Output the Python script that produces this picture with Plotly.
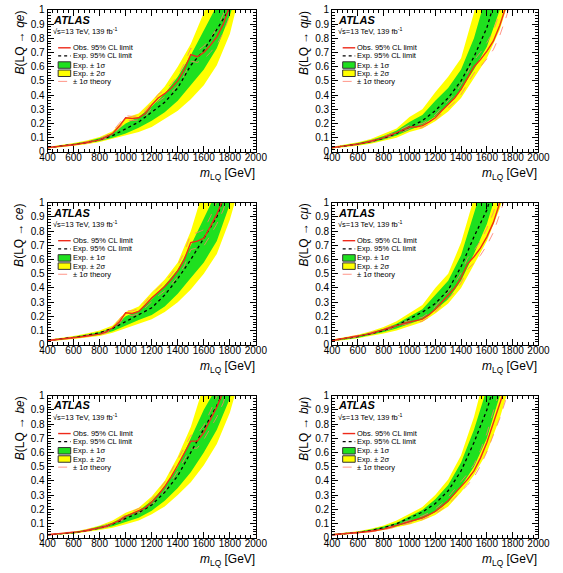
import plotly.graph_objects as go

# ---------------- data ----------------
M_GRID = list(range(400, 2001, 100))   # grid for expected limits and bands
OBS_M = list(range(400, 1801, 50))     # grid for observed limits and theory variations

# LQ -> q e
QE_EXP = [0.03, 0.04, 0.052, 0.066, 0.085, 0.115, 0.16, 0.21, 0.28, 0.35, 0.45, 0.61, 0.715, 0.86, 1.01, 1.25, 1.5]
QE_2UP = [0.035, 0.047, 0.062, 0.08, 0.105, 0.145, 0.24, 0.27, 0.36, 0.46, 0.6, 0.76, 0.98, 1.25, 1.5, 1.8, 2.1]
QE_1UP = [0.033, 0.044, 0.058, 0.074, 0.097, 0.13, 0.2, 0.245, 0.32, 0.41, 0.53, 0.68, 0.86, 1.03, 1.3, 1.6, 1.9]
QE_1DN = [0.027, 0.036, 0.047, 0.06, 0.077, 0.1, 0.13, 0.17, 0.22, 0.28, 0.36, 0.47, 0.58, 0.73, 0.96, 1.25, 1.5]
QE_2DN = [0.024, 0.032, 0.042, 0.054, 0.07, 0.09, 0.115, 0.14, 0.175, 0.23, 0.29, 0.37, 0.47, 0.61, 0.83, 1.2, 1.5]
QE_OBS = [0.03, 0.034, 0.038, 0.044, 0.05, 0.057, 0.065, 0.074, 0.085, 0.105, 0.13, 0.18, 0.24, 0.235, 0.24,
          0.27, 0.33, 0.38, 0.41, 0.45, 0.5, 0.58, 0.685, 0.67, 0.7, 0.75, 0.81, 0.9, 1.03]
QE_THUP = [0.032, 0.036, 0.041, 0.047, 0.054, 0.061, 0.07, 0.08, 0.092, 0.115, 0.145, 0.2, 0.255, 0.25, 0.255,
           0.29, 0.35, 0.405, 0.435, 0.48, 0.535, 0.62, 0.73, 0.71, 0.745, 0.8, 0.87, 0.97, 1.1]
QE_THDN = [0.028, 0.032, 0.036, 0.041, 0.046, 0.053, 0.06, 0.068, 0.078, 0.096, 0.12, 0.165, 0.225, 0.22, 0.225,
           0.25, 0.31, 0.355, 0.385, 0.42, 0.465, 0.54, 0.64, 0.63, 0.655, 0.7, 0.755, 0.84, 0.96]

# LQ -> q mu
QM_EXP = [0.03, 0.04, 0.055, 0.073, 0.097, 0.13, 0.175, 0.22, 0.29, 0.38, 0.5, 0.67, 0.875, 1.2, 1.5, 1.8, 2.1]
QM_2UP = [0.036, 0.05, 0.068, 0.09, 0.125, 0.165, 0.245, 0.3, 0.42, 0.53, 0.66, 0.98, 1.4, 1.8, 2.1, 2.4, 2.7]
QM_1UP = [0.033, 0.045, 0.062, 0.083, 0.112, 0.15, 0.21, 0.26, 0.36, 0.45, 0.58, 0.8, 1.15, 1.5, 1.8, 2.1, 2.4]
QM_1DN = [0.027, 0.036, 0.048, 0.065, 0.088, 0.115, 0.155, 0.19, 0.25, 0.33, 0.44, 0.58, 0.74, 1.0, 1.3, 1.6, 1.9]
QM_2DN = [0.024, 0.032, 0.043, 0.058, 0.078, 0.1, 0.14, 0.165, 0.215, 0.285, 0.38, 0.52, 0.66, 0.86, 1.15, 1.45, 1.75]
QM_OBS = [0.03, 0.035, 0.04, 0.047, 0.055, 0.064, 0.074, 0.086, 0.1, 0.116, 0.135, 0.155, 0.175, 0.175, 0.185,
          0.21, 0.24, 0.29, 0.335, 0.38, 0.44, 0.52, 0.6, 0.65, 0.71, 0.78, 0.89, 1.03, 1.2]
QM_THUP = [0.032, 0.037, 0.043, 0.05, 0.059, 0.068, 0.079, 0.092, 0.107, 0.124, 0.145, 0.166, 0.188, 0.19, 0.2,
           0.226, 0.26, 0.31, 0.36, 0.41, 0.475, 0.56, 0.645, 0.7, 0.77, 0.85, 0.97, 1.12, 1.3]
QM_THDN = [0.028, 0.033, 0.037, 0.044, 0.051, 0.06, 0.069, 0.08, 0.093, 0.108, 0.125, 0.144, 0.162, 0.162, 0.171,
           0.195, 0.222, 0.27, 0.31, 0.35, 0.405, 0.48, 0.555, 0.6, 0.655, 0.72, 0.82, 0.95, 1.1]

# LQ -> c e
CE_EXP = [0.03, 0.04, 0.052, 0.066, 0.085, 0.115, 0.165, 0.21, 0.26, 0.35, 0.465, 0.6, 0.75, 0.9, 1.15, 1.4, 1.65]
CE_2UP = [0.035, 0.047, 0.062, 0.08, 0.1, 0.135, 0.23, 0.27, 0.37, 0.46, 0.58, 0.8, 1.1, 1.4, 1.7, 2.0, 2.3]
CE_1UP = [0.033, 0.044, 0.057, 0.073, 0.09, 0.12, 0.2, 0.24, 0.32, 0.42, 0.53, 0.7, 0.88, 1.08, 1.35, 1.6, 1.9]
CE_1DN = [0.027, 0.036, 0.045, 0.057, 0.07, 0.095, 0.135, 0.175, 0.21, 0.27, 0.36, 0.47, 0.58, 0.73, 0.99, 1.3, 1.6]
CE_2DN = [0.024, 0.032, 0.04, 0.05, 0.062, 0.085, 0.115, 0.15, 0.18, 0.23, 0.3, 0.39, 0.5, 0.64, 0.88, 1.2, 1.5]
CE_OBS = [0.03, 0.034, 0.038, 0.043, 0.05, 0.055, 0.062, 0.068, 0.075, 0.09, 0.12, 0.16, 0.225, 0.22, 0.235,
          0.28, 0.33, 0.37, 0.41, 0.46, 0.52, 0.6, 0.72, 0.73, 0.75, 0.83, 0.92, 1.03, 1.2]
CE_THUP = [0.032, 0.036, 0.041, 0.046, 0.053, 0.059, 0.066, 0.073, 0.081, 0.098, 0.13, 0.175, 0.24, 0.238, 0.255,
           0.3, 0.355, 0.4, 0.44, 0.495, 0.56, 0.65, 0.78, 0.79, 0.81, 0.9, 1.0, 1.12, 1.3]
CE_THDN = [0.028, 0.032, 0.036, 0.04, 0.047, 0.051, 0.058, 0.063, 0.07, 0.083, 0.11, 0.148, 0.21, 0.205, 0.218,
           0.26, 0.305, 0.345, 0.38, 0.425, 0.48, 0.555, 0.67, 0.68, 0.695, 0.77, 0.85, 0.95, 1.1]

# LQ -> c mu
CM_EXP = [0.03, 0.042, 0.058, 0.078, 0.1, 0.135, 0.18, 0.23, 0.29, 0.385, 0.55, 0.76, 0.95, 1.25, 1.55, 1.85, 2.15]
CM_2UP = [0.037, 0.052, 0.07, 0.095, 0.125, 0.165, 0.225, 0.28, 0.4, 0.5, 0.72, 1.02, 1.35, 1.7, 2.0, 2.3, 2.6]
CM_1UP = [0.034, 0.048, 0.065, 0.086, 0.112, 0.148, 0.2, 0.25, 0.35, 0.45, 0.63, 0.9, 1.2, 1.5, 1.8, 2.1, 2.4]
CM_1DN = [0.027, 0.037, 0.05, 0.068, 0.09, 0.115, 0.145, 0.18, 0.245, 0.32, 0.45, 0.64, 0.85, 1.15, 1.45, 1.75, 2.05]
CM_2DN = [0.024, 0.034, 0.045, 0.06, 0.08, 0.1, 0.13, 0.16, 0.22, 0.29, 0.4, 0.56, 0.73, 0.96, 1.25, 1.55, 1.85]
CM_OBS = [0.03, 0.037, 0.045, 0.052, 0.06, 0.07, 0.08, 0.092, 0.105, 0.12, 0.135, 0.15, 0.16, 0.17, 0.18,
          0.21, 0.25, 0.3, 0.35, 0.4, 0.47, 0.57, 0.62, 0.68, 0.76, 0.86, 1.0, 1.15, 1.3]
CM_THUP = [0.032, 0.04, 0.048, 0.056, 0.064, 0.075, 0.086, 0.098, 0.112, 0.128, 0.144, 0.16, 0.172, 0.183, 0.194,
           0.226, 0.27, 0.322, 0.375, 0.43, 0.505, 0.61, 0.665, 0.73, 0.82, 0.93, 1.08, 1.25, 1.4]
CM_THDN = [0.028, 0.034, 0.042, 0.048, 0.056, 0.065, 0.074, 0.086, 0.098, 0.112, 0.126, 0.14, 0.148, 0.157, 0.166,
           0.194, 0.23, 0.278, 0.325, 0.37, 0.435, 0.53, 0.575, 0.63, 0.7, 0.79, 0.92, 1.06, 1.2]

# LQ -> b e
BE_EXP = [0.02, 0.027, 0.035, 0.05, 0.068, 0.095, 0.135, 0.175, 0.23, 0.32, 0.435, 0.6, 0.77, 0.93, 1.12, 1.35, 1.6]
BE_2UP = [0.024, 0.032, 0.042, 0.06, 0.085, 0.12, 0.175, 0.21, 0.29, 0.4, 0.57, 0.78, 1.05, 1.35, 1.65, 1.95, 2.25]
BE_1UP = [0.022, 0.03, 0.039, 0.056, 0.078, 0.105, 0.155, 0.19, 0.26, 0.36, 0.5, 0.7, 0.9, 1.06, 1.3, 1.6, 1.9]
BE_1DN = [0.018, 0.024, 0.031, 0.044, 0.06, 0.08, 0.11, 0.14, 0.19, 0.26, 0.35, 0.46, 0.6, 0.76, 0.98, 1.3, 1.6]
BE_2DN = [0.016, 0.022, 0.028, 0.04, 0.054, 0.07, 0.095, 0.12, 0.165, 0.22, 0.3, 0.39, 0.51, 0.66, 0.88, 1.2, 1.5]
BE_OBS = [0.02, 0.024, 0.028, 0.031, 0.035, 0.042, 0.05, 0.06, 0.07, 0.08, 0.1, 0.12, 0.15, 0.17, 0.19,
          0.21, 0.25, 0.3, 0.36, 0.43, 0.51, 0.59, 0.68, 0.68, 0.74, 0.83, 0.92, 1.03, 1.2]
BE_THUP = [0.022, 0.026, 0.03, 0.034, 0.038, 0.046, 0.055, 0.065, 0.076, 0.087, 0.108, 0.13, 0.162, 0.183, 0.205,
           0.227, 0.27, 0.325, 0.39, 0.465, 0.55, 0.635, 0.72, 0.73, 0.79, 0.89, 0.99, 1.1, 1.3]
BE_THDN = [0.018, 0.022, 0.026, 0.028, 0.032, 0.038, 0.045, 0.055, 0.064, 0.073, 0.092, 0.11, 0.138, 0.157, 0.175,
           0.193, 0.23, 0.275, 0.33, 0.395, 0.47, 0.545, 0.63, 0.63, 0.69, 0.77, 0.85, 0.95, 1.1]

# LQ -> b mu
BM_EXP = [0.02, 0.027, 0.036, 0.05, 0.07, 0.097, 0.136, 0.18, 0.24, 0.33, 0.47, 0.67, 0.9, 1.2, 1.5, 1.8, 2.1]
BM_2UP = [0.026, 0.035, 0.045, 0.062, 0.085, 0.12, 0.165, 0.215, 0.3, 0.41, 0.58, 0.85, 1.2, 1.55, 1.9, 2.2, 2.5]
BM_1UP = [0.023, 0.032, 0.041, 0.057, 0.078, 0.105, 0.15, 0.195, 0.27, 0.37, 0.53, 0.76, 1.05, 1.4, 1.7, 2.0, 2.3]
BM_1DN = [0.018, 0.024, 0.032, 0.044, 0.06, 0.08, 0.105, 0.135, 0.18, 0.25, 0.36, 0.5, 0.7, 1.0, 1.3, 1.6, 1.9]
BM_2DN = [0.016, 0.022, 0.029, 0.04, 0.053, 0.07, 0.092, 0.12, 0.16, 0.22, 0.32, 0.44, 0.6, 0.84, 1.14, 1.45, 1.75]
BM_OBS = [0.02, 0.023, 0.026, 0.03, 0.035, 0.04, 0.045, 0.052, 0.06, 0.072, 0.085, 0.097, 0.11, 0.125, 0.14,
          0.16, 0.185, 0.22, 0.26, 0.31, 0.36, 0.41, 0.47, 0.56, 0.67, 0.8, 0.93, 1.08, 1.25]
BM_THUP = [0.022, 0.025, 0.028, 0.033, 0.038, 0.044, 0.049, 0.057, 0.066, 0.079, 0.093, 0.106, 0.12, 0.137, 0.153,
           0.175, 0.202, 0.24, 0.285, 0.34, 0.395, 0.45, 0.515, 0.615, 0.735, 0.88, 1.02, 1.18, 1.35]
BM_THDN = [0.018, 0.021, 0.024, 0.027, 0.032, 0.036, 0.041, 0.047, 0.054, 0.065, 0.077, 0.088, 0.1, 0.113, 0.127,
           0.145, 0.168, 0.2, 0.235, 0.28, 0.325, 0.37, 0.425, 0.505, 0.605, 0.72, 0.84, 0.98, 1.15]

CHANNELS = ["<i>qe</i>", "<i>qμ</i>", "<i>ce</i>", "<i>cμ</i>", "<i>be</i>", "<i>bμ</i>"]
PANELS = [
    (QE_EXP, QE_1UP, QE_1DN, QE_2UP, QE_2DN, QE_OBS, QE_THUP, QE_THDN),
    (QM_EXP, QM_1UP, QM_1DN, QM_2UP, QM_2DN, QM_OBS, QM_THUP, QM_THDN),
    (CE_EXP, CE_1UP, CE_1DN, CE_2UP, CE_2DN, CE_OBS, CE_THUP, CE_THDN),
    (CM_EXP, CM_1UP, CM_1DN, CM_2UP, CM_2DN, CM_OBS, CM_THUP, CM_THDN),
    (BE_EXP, BE_1UP, BE_1DN, BE_2UP, BE_2DN, BE_OBS, BE_THUP, BE_THDN),
    (BM_EXP, BM_1UP, BM_1DN, BM_2UP, BM_2DN, BM_OBS, BM_THUP, BM_THDN),
]
LEGEND_LABELS = ["Obs. 95% CL limit", "Exp. 95% CL limit", "Exp. ± 1σ", "Exp. ± 2σ", "± 1σ theory"]

# ---------------- style ----------------
W, H = 563, 573
FONT = "Liberation Sans, Arial, sans-serif"
GREEN = "#1fe01f"
YELLOW = "#ffff00"
RED = "#ee2a1a"
THEO = "#ff7a6a"
COL_L = [41, 336]
COL_R = [257, 550]
ROW_T = [4, 201, 398]
PH = 145


def px(x):
    return x / W


def py(y):
    return 1 - y / H


fig = go.Figure()
annotations = []
shapes = []
layout_axes = {}

for i, (exp, s1u, s1d, s2u, s2d, obs, thu, thd) in enumerate(PANELS):
    col, row = i % 2, i // 2
    L, R, T = COL_L[col], COL_R[col], ROW_T[row]
    B = T + PH
    n = "" if i == 0 else str(i + 1)
    xa, ya = "x" + n, "y" + n

    band_x = M_GRID + M_GRID[::-1]
    fig.add_trace(go.Scatter(x=band_x, y=s2u + s2d[::-1], fill="toself", fillcolor=YELLOW,
                             line=dict(width=0), mode="lines", xaxis=xa, yaxis=ya, hoverinfo="skip"))
    fig.add_trace(go.Scatter(x=band_x, y=s1u + s1d[::-1], fill="toself", fillcolor=GREEN,
                             line=dict(width=0), mode="lines", xaxis=xa, yaxis=ya, hoverinfo="skip"))
    for th in (thu, thd):
        fig.add_trace(go.Scatter(x=OBS_M, y=th, mode="lines", xaxis=xa, yaxis=ya,
                                 line=dict(color=THEO, width=0.8, dash="dash")))
    fig.add_trace(go.Scatter(x=M_GRID, y=exp, mode="lines", xaxis=xa, yaxis=ya,
                             line=dict(color="black", width=1.3, dash="dot")))
    fig.add_trace(go.Scatter(x=OBS_M, y=obs, mode="lines", xaxis=xa, yaxis=ya,
                             line=dict(color=RED, width=1.4)))

    common = dict(showline=True, linecolor="black", linewidth=1, mirror="allticks",
                  ticks="inside", tickcolor="black", ticklen=6, showgrid=False, zeroline=False,
                  tickfont=dict(family=FONT, size=10, color="black"))
    layout_axes["xaxis" + n] = dict(common, domain=[px(L), px(R)], anchor=ya, range=[400, 2000],
                                    tick0=400, dtick=200, ticklabelstandoff=-4,
                                    minor=dict(tick0=400, dtick=40, ticks="inside", ticklen=3,
                                               tickcolor="black", showgrid=False))
    layout_axes["yaxis" + n] = dict(common, domain=[py(B), py(T)], anchor=xa, range=[0, 1],
                                    tick0=0, dtick=0.1,
                                    minor=dict(tick0=0, dtick=0.02, ticks="inside", ticklen=3,
                                               tickcolor="black", showgrid=False))

    # axis titles
    annotations.append(dict(xref="paper", yref="paper", x=px(L - 29), y=py(T - 1),
                            xanchor="center", yanchor="top", textangle=-90, showarrow=False,
                            text="<i>B</i>(LQ → " + CHANNELS[i] + ")",
                            font=dict(family=FONT, size=12, color="black")))
    annotations.append(dict(xref="paper", yref="paper", x=px(R + 1), y=py(B + 23),
                            xanchor="right", yanchor="middle", showarrow=False,
                            text="<i>m</i><sub>LQ</sub> [GeV]",
                            font=dict(family=FONT, size=12, color="black")))
    # ATLAS label
    annotations.append(dict(xref="paper", yref="paper", x=px(L + 5), y=py(T + 10),
                            xanchor="left", yanchor="middle", showarrow=False, borderpad=0,
                            text="<b><i>ATLAS</i></b>", font=dict(family=FONT, size=11, color="black")))
    annotations.append(dict(xref="paper", yref="paper", x=px(L + 5), y=py(T + 22),
                            xanchor="left", yanchor="middle", showarrow=False, borderpad=0,
                            text="√s=13 TeV, 139 fb<sup>-1</sup>",
                            font=dict(family=FONT, size=7.5, color="black")))
    # legend
    rows_y = [38.7, 47, 56.3, 64.7, 73]
    gx0, gx1 = L + 11, L + 24
    for k, lab in enumerate(LEGEND_LABELS):
        yy = T + rows_y[k]
        annotations.append(dict(xref="paper", yref="paper", x=px(L + 25), y=py(yy),
                                xanchor="left", yanchor="middle", showarrow=False, borderpad=0,
                                text=lab, font=dict(family=FONT, size=7.5, color="black")))
        if k == 0:
            shapes.append(dict(type="line", xref="paper", yref="paper", x0=px(gx0), x1=px(gx1),
                               y0=py(yy), y1=py(yy), line=dict(color=RED, width=1.4)))
        elif k == 1:
            shapes.append(dict(type="line", xref="paper", yref="paper", x0=px(gx0), x1=px(gx1),
                               y0=py(yy), y1=py(yy), line=dict(color="black", width=1.3, dash="dot")))
        elif k in (2, 3):
            shapes.append(dict(type="rect", xref="paper", yref="paper", x0=px(gx0), x1=px(gx1),
                               y0=py(yy + 3.3), y1=py(yy - 3.3),
                               fillcolor=GREEN if k == 2 else YELLOW,
                               line=dict(color="#333333", width=1)))
        else:
            shapes.append(dict(type="line", xref="paper", yref="paper", x0=px(gx0), x1=px(gx1),
                               y0=py(yy), y1=py(yy), line=dict(color=THEO, width=0.8, dash="dash")))

fig.update_layout(width=W, height=H, margin=dict(l=0, r=0, t=0, b=0),
                  paper_bgcolor="white", plot_bgcolor="white", showlegend=False,
                  annotations=annotations, shapes=shapes, **layout_axes)

fig.write_html("out.html")
